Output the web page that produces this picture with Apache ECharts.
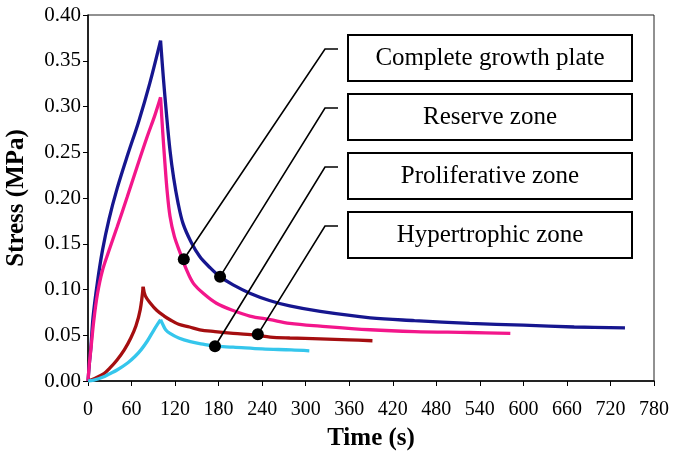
<!DOCTYPE html>
<html>
<head>
<meta charset="utf-8">
<style>html,body{margin:0;padding:0;background:#fff}#c{width:674px;height:455px}</style>
<script src="https://cdn.jsdelivr.net/npm/echarts@6/dist/echarts.min.js"></script>
</head>
<body>
<div id="c"></div>
<script>
// ---- data (time in s, stress in MPa) ----
const completeGrowthPlate = [[0,0],[2,0.02],[4,0.037],[7,0.07],[13,0.108],[20,0.143],[29,0.177],[40,0.210],[55,0.248],[70,0.284],[85,0.325],[100,0.372],
  [104,0.33],[108,0.293],[113,0.252],[118,0.222],[124,0.195],[131,0.172],[142,0.152],[154,0.136],[168,0.124],[182,0.114],[200,0.105],[223,0.096],[250,0.088],[278,0.082],[320,0.076],[389,0.069],[450,0.066],[526,0.063],[600,0.061],[670,0.059],[740,0.058]];
const reserveZone = [[0,0],[2,0.02],[4,0.035],[8,0.066],[13,0.095],[20,0.121],[30,0.145],[40,0.168],[54,0.201],[68,0.235],[82,0.268],[92,0.290],[100,0.310],
  [103,0.272],[106,0.238],[109,0.208],[113,0.180],[119,0.158],[127,0.140],[135,0.123],[145,0.107],[160,0.095],[177,0.085],[200,0.077],[223,0.071],[251,0.067],[278,0.063],[320,0.060],[389,0.056],[450,0.054],[526,0.053],[582,0.052]];
const proliferativeZone = [[0,0],[10,0.003],[22,0.008],[30,0.014],[40,0.023],[50,0.034],[59,0.047],[66,0.060],[72,0.078],[76,0.103],
  [79,0.093],[86,0.085],[95,0.077],[105,0.071],[113,0.067],[125,0.062],[140,0.059],[154,0.056],[175,0.054],[200,0.052],[232,0.050],[251,0.048],[278,0.047],[320,0.046],[360,0.045],[392,0.044]];
const hypertrophicZone = [[0,0],[8,0.001],[20,0.004],[30,0.008],[40,0.012],[55,0.020],[65,0.027],[73,0.034],[82,0.044],[91,0.056],[100,0.067],
  [103,0.062],[107,0.056],[113,0.052],[125,0.047],[141,0.043],[160,0.040],[175,0.038],[200,0.037],[240,0.035],[280,0.034],[305,0.033]];

const seriesNames = ['Complete growth plate','Reserve zone','Proliferative zone','Hypertrophic zone'];
// annotation dots (data coords), one per label box
const dotX = [132, 182, 175, 234];
const dotY = [0.133, 0.114, 0.038, 0.051];

const xTickMax = 780, xTickStep = 60;
const yTickMax = 0.40, yTickStep = 0.05;

const colors = ['#16168f','#f3168b','#a50e10','#35c6ec'];
const serif = "'Liberation Serif','Times New Roman',serif";

const chart = echarts.init(document.getElementById('c'));
const allData = [completeGrowthPlate, reserveZone, proliferativeZone, hypertrophicZone];

// split each curve at its peak so the loading/relaxation cusp stays sharp
function peakIndex(d) { let k = 0; d.forEach((p, i) => { if (p[1] > d[k][1]) k = i; }); return k; }
const lineSeries = [];
allData.forEach((d, i) => {
  const k = peakIndex(d);
  [d.slice(0, k + 1), d.slice(k)].forEach(part => {
    lineSeries.push({
      name: seriesNames[i], type: 'line', data: part, showSymbol: false, smooth: 0.35,
      lineStyle: {color: colors[i], width: 3.3}, z: 2
    });
  });
});

const option = {
  animation: false,
  grid: {left: 88, right: 20, top: 15, bottom: 74, outerBoundsMode: 'none', containLabel: false,
         show: true, borderColor: '#222', borderWidth: 1},
  xAxis: {
    type: 'value', min: 0, max: xTickMax, interval: xTickStep,
    name: 'Time (s)', nameLocation: 'middle', nameGap: 45,
    nameTextStyle: {fontFamily: serif, fontSize: 25, fontWeight: 'bold', color: '#000'},
    axisLine: {lineStyle: {color: '#000', width: 1.5}},
    axisTick: {show: true, inside: false, length: 5, lineStyle: {color: '#000'}},
    axisLabel: {fontFamily: serif, fontSize: 20, color: '#000', margin: 19},
    splitLine: {show: false}
  },
  yAxis: {
    type: 'value', min: 0, max: yTickMax, interval: yTickStep,
    name: 'Stress (MPa)', nameLocation: 'middle', nameGap: 59,
    nameTextStyle: {fontFamily: serif, fontSize: 25, fontWeight: 'bold', color: '#000'},
    axisLine: {show: true, lineStyle: {color: '#000', width: 1.5}},
    axisTick: {show: true, inside: false, length: 5, lineStyle: {color: '#000'}},
    axisLabel: {fontFamily: serif, fontSize: 21, color: '#000', margin: 7, formatter: v => v.toFixed(2)},
    splitLine: {show: false}
  },
  series: lineSeries.concat([{
    type: 'scatter', data: dotX.map((x, i) => [x, dotY[i]]),
    symbolSize: 12, itemStyle: {color: '#000', opacity: 1}, z: 5
  }])
};
chart.setOption(option);

// label boxes with leader lines
const boxLeft = 348, boxRight = 632, boxH = 46;
const boxTops = [35, 94, 153, 212];
const elements = [];
boxTops.forEach((top, i) => {
  const p = chart.convertToPixel({gridIndex: 0}, [dotX[i], dotY[i]]);
  const stubY = top + 14;
  elements.push({
    type: 'polyline', silent: true, z: 4,
    shape: {points: [[p[0], p[1]], [325, stubY], [338, stubY]]},
    style: {stroke: '#000', lineWidth: 1.6, fill: null}
  });
  elements.push({
    type: 'rect', silent: true, z: 4,
    shape: {x: boxLeft, y: top, width: boxRight - boxLeft, height: boxH},
    style: {fill: '#fff', stroke: '#000', lineWidth: 2}
  });
  elements.push({
    type: 'text', silent: true, z: 5,
    x: (boxLeft + boxRight) / 2, y: top + boxH / 2,
    style: {text: seriesNames[i], font: '25px ' + serif, fill: '#000', align: 'center', verticalAlign: 'middle'}
  });
});
chart.setOption({graphic: elements});
</script>
</body>
</html>
